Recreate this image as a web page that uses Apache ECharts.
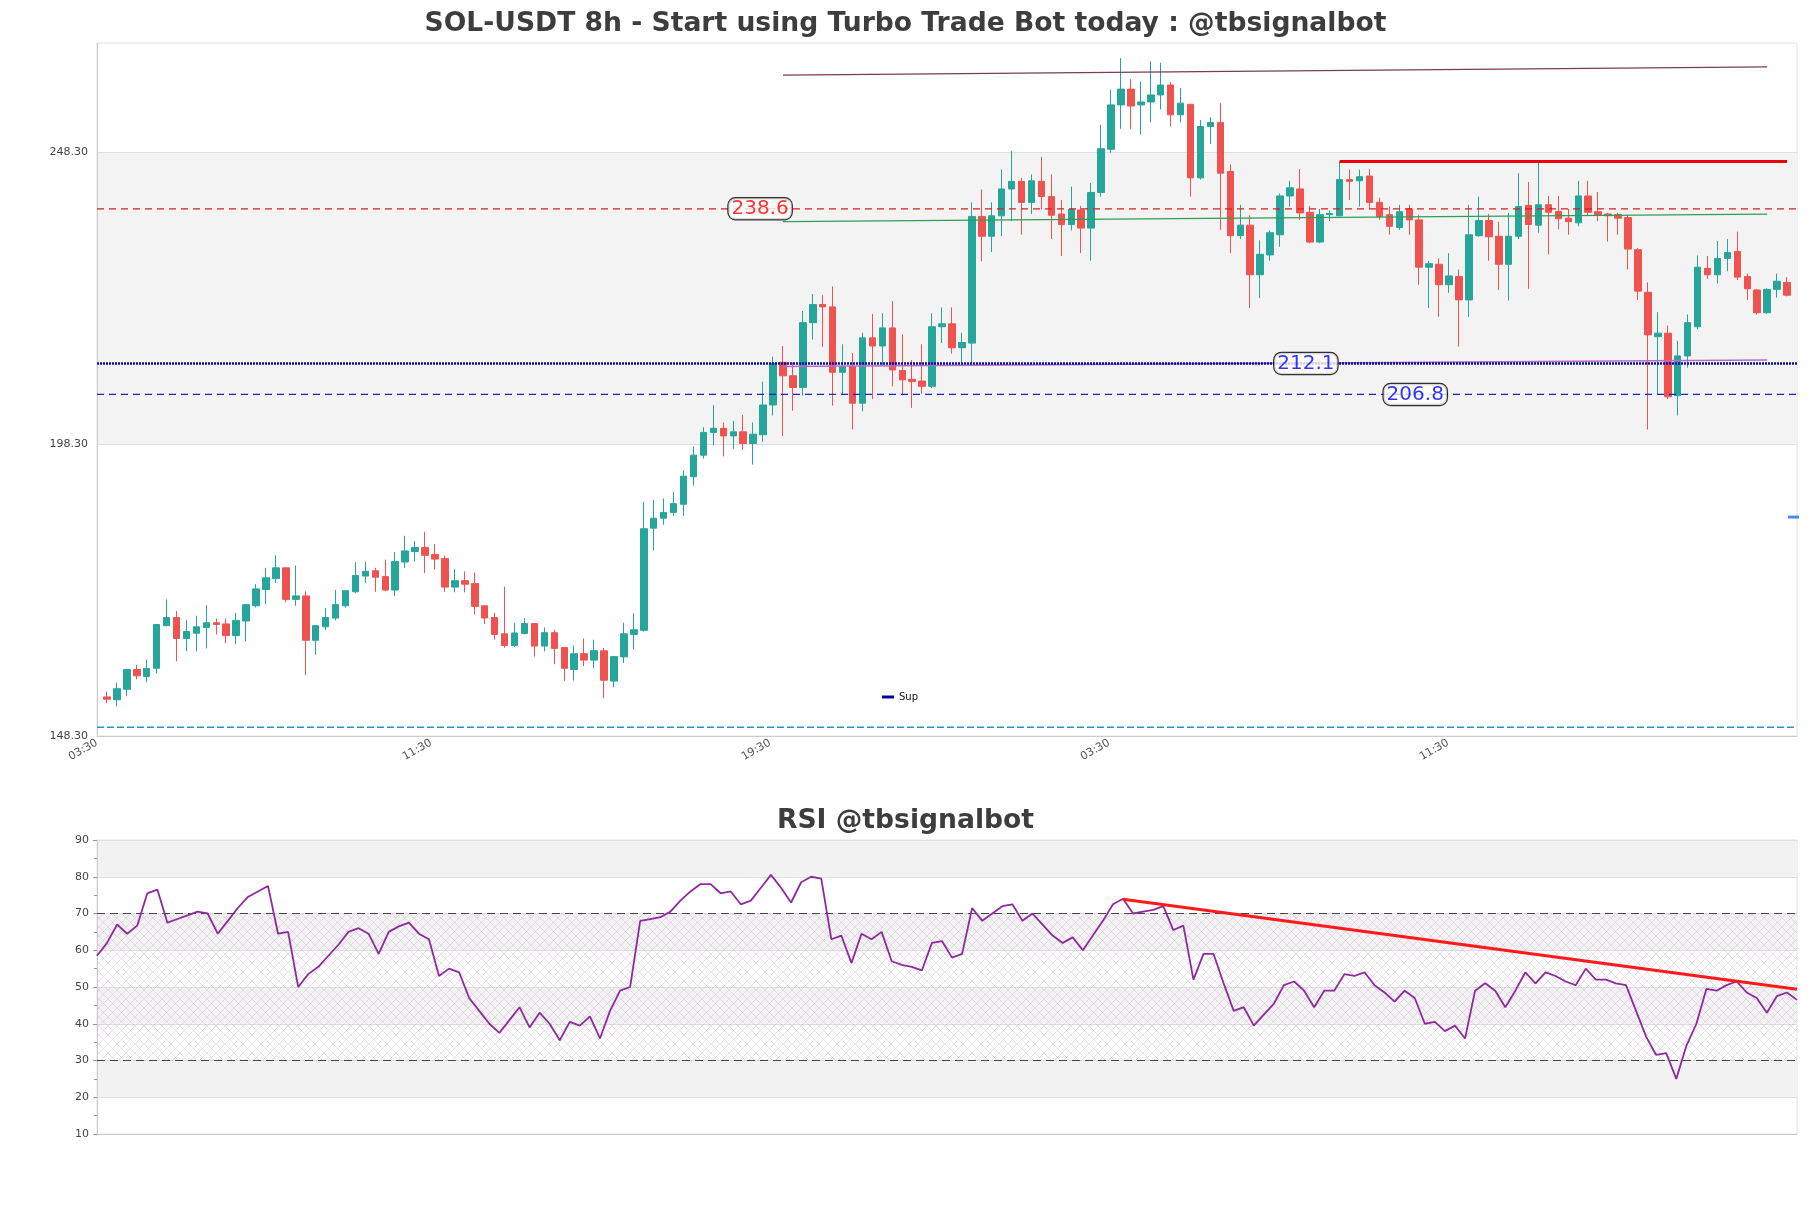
<!DOCTYPE html>
<html>
<head>
<meta charset="utf-8">
<script src="https://cdn.jsdelivr.net/npm/echarts@6/dist/echarts.min.js"></script>
<style>
html,body{margin:0;padding:0;background:#ffffff;}
#chart{width:1811px;height:1208px;}
</style>
</head>
<body>
<div id="chart"></div>
<script>
// ---------------- DATA ----------------
const opens = [155.0,154.5,156.3,159.7,158.5,159.9,167.2,168.6,165.0,165.9,166.9,167.7,167.5,165.5,168.0,170.6,173.4,175.25,177.1,171.7,
172.3,164.7,167.0,168.5,170.6,173.0,175.7,176.6,175.6,173.3,178.1,179.9,180.6,179.4,178.7,173.8,174.9,174.4,170.6,168.6,
165.8,163.8,165.85,167.55,163.7,166.0,163.45,159.7,162.4,161.3,162.9,157.7,161.85,165.7,166.4,183.9,185.6,186.6,188.0,192.7,
196.4,200.3,201.0,199.7,200.4,198.4,199.9,205.0,212.3,210.0,208.0,219.1,222.2,221.8,210.6,211.6,205.3,216.5,215.1,218.2,
210.9,209.4,209.1,208.2,218.4,218.9,214.8,215.6,237.3,233.9,237.4,242.0,243.3,239.7,243.3,240.7,237.7,235.9,238.4,235.3,
241.4,248.8,256.4,259.1,256.4,256.9,258.1,259.8,254.7,256.5,243.9,252.7,253.4,245.0,234.0,235.8,227.3,230.7,234.15,240.8,
242.0,238.0,232.9,237.6,237.4,243.6,243.4,244.2,239.7,237.6,235.4,238.6,236.7,228.6,229.1,225.6,227.0,223.0,234.0,236.6,
233.9,229.1,233.9,239.2,235.8,239.3,238.15,237.0,236.2,240.8,238.1,237.7,237.6,237.1,231.6,224.3,216.7,217.3,206.6,213.4,
218.4,228.4,227.3,230.1,231.3,227.0,224.7,220.8,224.8,226.0];
const closes = [154.6,156.4,159.7,158.6,159.85,167.4,168.6,165.0,166.2,167.0,167.7,167.4,165.5,168.1,170.8,173.5,175.4,177.1,171.7,172.3,
164.7,167.2,168.6,170.8,173.2,175.8,176.5,175.5,173.3,178.2,180.0,180.6,179.25,178.6,173.8,174.9,174.3,170.5,168.5,165.7,
163.8,165.95,167.55,163.7,166.0,163.3,159.9,162.4,161.3,162.9,157.85,161.9,165.8,166.5,183.8,185.6,186.6,188.1,192.8,196.4,
200.3,201.0,199.7,200.4,198.4,200.0,205.0,212.1,210.0,208.0,219.1,222.2,221.8,210.6,211.6,205.3,216.5,215.1,218.2,211.0,
209.3,209.0,208.2,218.4,218.9,214.8,215.7,237.3,233.9,237.4,242.0,243.3,239.7,243.4,240.7,237.5,235.9,238.5,235.3,241.4,
248.9,256.4,259.1,256.2,256.9,258.1,259.8,254.7,256.7,243.9,252.7,253.4,244.7,234.0,235.8,227.3,230.8,234.5,240.8,242.2,
237.9,232.9,237.6,237.8,243.6,243.3,244.1,239.7,237.3,235.6,238.1,236.7,228.6,229.2,225.6,227.1,223.0,234.15,236.6,233.8,
229.1,233.9,239.0,235.9,239.3,238.0,236.9,236.4,240.8,238.0,237.6,237.4,237.0,231.7,224.5,217.0,217.3,206.4,213.4,219.1,
228.6,227.3,230.1,231.1,226.9,224.9,220.8,224.8,226.2,223.8];
const lows = [153.9,153.4,155.1,158.0,157.5,159.0,167.1,161.1,162.8,162.8,163.3,165.7,164.2,164.0,164.5,170.3,170.9,174.5,171.2,170.6,
158.7,162.2,166.5,168.1,170.3,172.8,174.5,173.0,173.1,172.3,177.1,178.2,176.2,176.8,173.0,172.9,172.9,169.1,167.5,164.8,
163.4,163.5,165.7,161.9,162.8,160.6,157.7,157.8,160.25,159.9,154.8,156.65,160.8,163.1,166.2,180.1,184.5,186.0,186.0,191.2,
195.8,198.1,196.2,197.5,197.3,194.8,198.7,203.2,199.7,204.0,206.6,216.2,214.9,204.9,206.7,200.8,203.9,206.0,211.9,208.2,
206.6,204.5,206.9,207.9,215.6,213.8,212.1,212.1,229.6,231.2,233.9,236.5,234.15,237.7,238.5,233.4,230.5,234.9,231.0,229.7,
240.7,248.2,252.3,252.3,251.3,253.4,255.6,252.7,253.4,240.7,243.6,249.7,235.0,231.0,233.4,221.6,223.3,229.7,232.1,239.0,
236.7,232.7,232.7,236.5,237.4,240.1,239.0,238.6,236.7,234.15,235.0,234.15,225.6,221.6,220.1,224.2,215.0,220.1,233.8,229.7,
224.7,222.9,233.4,224.9,234.5,230.8,235.1,234.15,235.6,237.5,236.5,233.0,234.15,228.2,223.0,200.8,206.9,206.0,203.2,211.4,
218.0,226.6,225.8,227.9,226.4,223.0,220.5,220.6,223.4,223.6];
const highs = [155.9,157.45,159.7,160.5,161.4,167.4,171.7,169.7,168.1,168.9,170.7,168.4,168.4,169.4,170.8,174.3,177.1,179.25,177.1,177.5,
173.1,167.2,170.2,173.3,173.2,178.1,178.1,177.1,178.5,179.8,182.6,181.7,183.3,181.2,179.2,176.9,176.5,176.3,170.6,169.4,
173.9,167.7,168.5,167.55,166.9,166.5,163.45,163.8,165.0,164.8,163.4,161.9,167.7,169.3,188.4,188.7,189.0,190.1,193.8,197.9,
201.2,205.0,202.0,202.3,203.3,202.0,209.0,213.3,215.1,212.3,221.1,224.0,223.8,225.3,215.4,213.9,217.4,220.6,220.7,222.8,
217.1,212.7,215.4,220.7,221.7,221.7,217.4,239.7,241.9,239.7,245.3,248.5,243.9,244.5,247.5,244.5,240.1,242.4,239.1,243.0,
253.0,259.0,264.4,260.8,260.4,263.9,263.6,260.3,259.3,256.5,253.8,254.3,256.7,246.2,239.3,237.5,233.2,234.9,241.2,243.4,
245.4,239.1,238.6,238.3,246.7,245.3,245.3,245.4,240.5,239.0,239.3,239.3,237.6,229.7,230.1,231.0,228.2,239.3,240.7,237.7,
236.4,237.9,244.7,243.2,246.7,240.8,240.8,238.6,243.4,243.4,241.5,237.9,237.9,237.5,231.9,226.0,220.9,218.6,216.0,220.5,
230.6,230.5,233.1,233.4,234.7,227.5,224.9,225.0,227.5,226.9];

const rsiValues = [58.5,62,67,64.5,66.7,75.5,76.5,67.5,68.5,69.5,
70.5,70,64.5,68,71.5,74.5,76,77.5,64.5,65,
50,53.5,55.5,58.5,61.5,65,66,64.5,59,65,
66.5,67.5,64.5,63,53,55,54,47,43.5,40,
37.5,41,44.5,39,43,40,35.5,40.5,39.5,42,
36,43.5,49,50,68,68.5,69,70.5,73.5,76,
78,78,75.5,76,72.5,73.5,77,80.5,77,73,
78.5,80,79.5,63,64,56.5,64.5,63,65,57,
56,55.5,54.5,62,62.5,58,59,71.5,68,70,
72,72.5,68,70,67,64,62,63.5,60,64,
68,72.5,74,70,70.5,71,72,65.5,66.7,52,
59,59,51,43.5,44.5,39.5,42.5,45.5,50.5,51.5,
49,44.5,49,49,53.5,53,54,50.5,48.5,46,
49,47,40,40.5,38,39.5,36,49,51,49,
44.5,49,54,51,54,53,51.5,50.5,55,52,
52,51,50.5,43.5,36.5,31.5,32,25,34,40,
49.5,49,50.5,51.5,48.5,47,43,47.5,48.5,46.5];

const xTickPos = [-1, 32.6, 66.7, 100.8, 134.9];
const xTickLabels = ['03:30', '11:30', '19:30', '03:30', '11:30'];
const priceTicks = [148.3, 198.3, 248.3];
const priceRange = [148.3, 267.0];
const rsiRange = [10, 90];
const rsiBands = [30, 70];

const resistanceLevel = 238.6;
const supportLevel = 212.1;
const support2Level = 206.8;
const floorLevel = 149.8;
const trendUpper = [[68, 261.5], [167, 262.9]];
const trendMiddle = [[68, 236.4], [167, 237.7]];
const trendLower = [[68, 211.6], [167, 212.7]];
const topLevelLine = [[124, 246.7], [169, 246.7]];
const lastPriceMark = [[169.1, 185.8], [171.1, 185.8]];
const rsiTrend = [[102, 73.9], [169, 49.4]];
const levelLabels = [[65.7, 238.6, '#ff0000'], [120.6, 212.1, '#0000ff'], [131.6, 206.8, '#0000ff']];

// ---------------- CHART ----------------
const chart = echarts.init(document.getElementById('chart'), null, {renderer: 'canvas'});
const N = opens.length;
const candleData = opens.map((o, i) => [i, o, closes[i], lows[i], highs[i]]);
const xMin = -1, xMax = N;
const span = (v) => [[xMin, v], [xMax, v]];

// hatch pattern for RSI 30-70 zone
const pat = document.createElement('canvas');
pat.width = 9; pat.height = 9;
const pg = pat.getContext('2d');
pg.strokeStyle = 'rgba(205,170,210,0.38)';
pg.lineWidth = 1;
pg.beginPath();
pg.moveTo(0, 0); pg.lineTo(9, 9);
pg.moveTo(9, 0); pg.lineTo(0, 9);
pg.stroke();

const font = 'DejaVu Sans';
const lineSeries = (name, data, style, z) => ({
  name: name, type: 'line', xAxisIndex: 0, yAxisIndex: 0, data: data,
  symbol: 'none', silent: true, z: z || 5, lineStyle: style, itemStyle: {color: style.color},
  animation: false
});

const option = {
  backgroundColor: '#ffffff',
  animation: false,
  textStyle: {fontFamily: font},
  title: [
    {text: 'SOL-USDT 8h - Start using Turbo Trade Bot today : @tbsignalbot', left: 'center', top: 11, padding: 0,
     textStyle: {fontSize: 26.6, fontWeight: 'bold', color: '#3d3d3d', fontFamily: font}},
    {text: 'RSI @tbsignalbot', left: 'center', top: 808, padding: 0,
     textStyle: {fontSize: 26.6, fontWeight: 'bold', color: '#3d3d3d', fontFamily: font}}
  ],
  legend: {
    data: [{name: 'Sup', icon: 'rect', itemStyle: {color: '#0000aa'}}],
    left: 882, top: 692, itemWidth: 12, itemHeight: 3, padding: 0,
    textStyle: {fontSize: 10, color: '#111', fontFamily: font}
  },
  grid: [
    {left: 97, top: 43, width: 1700, height: 693, show: true, borderColor: '#e2e2e2', borderWidth: 1, backgroundColor: 'transparent'},
    {left: 97, top: 840, width: 1700, height: 294, show: true, borderColor: '#e2e2e2', borderWidth: 1, backgroundColor: 'transparent'}
  ],
  xAxis: [
    {type: 'value', gridIndex: 0, min: xMin, max: xMax,
     axisLine: {show: true, onZero: false, lineStyle: {color: '#cccccc'}},
     axisTick: {show: false, customValues: xTickPos},
     splitLine: {show: false},
     axisLabel: {customValues: xTickPos, rotate: 30, fontSize: 11, color: '#555', margin: 6, showMinLabel: true,
       formatter: (v) => { const k = xTickPos.findIndex(p => Math.abs(p - v) < 1e-6); return k >= 0 ? xTickLabels[k] : ''; }}},
    {type: 'value', gridIndex: 1, min: 0, max: rsiValues.length - 1,
     axisLine: {show: true, onZero: false, lineStyle: {color: '#cccccc'}}, axisTick: {show: false}, axisLabel: {show: false}, splitLine: {show: false}}
  ],
  yAxis: [
    {type: 'value', gridIndex: 0, min: priceRange[0], max: priceRange[1],
     axisLine: {show: true, onZero: false, lineStyle: {color: '#cccccc'}},
     axisTick: {show: false, customValues: priceTicks},
     axisLabel: {customValues: priceTicks, fontSize: 11, color: '#444', margin: 9, formatter: (v) => v.toFixed(2)},
     splitLine: {show: true, lineStyle: {color: '#dedede', width: 1}},
     splitArea: {show: true, areaStyle: {color: ['rgba(255,255,255,0)', '#f3f3f3']}}},
    {type: 'value', gridIndex: 1, min: rsiRange[0], max: rsiRange[1], interval: 10,
     axisLine: {show: true, onZero: false, lineStyle: {color: '#cccccc'}},
     axisTick: {show: true, length: 4, lineStyle: {color: '#999'}},
     minorTick: {show: true, splitNumber: 2, length: 3, lineStyle: {color: '#999'}},
     axisLabel: {fontSize: 11, color: '#444', margin: 8},
     splitLine: {show: true, lineStyle: {color: '#dedede', width: 1}},
     splitArea: {show: true, areaStyle: {color: ['rgba(255,255,255,0)', '#f2f2f3']}}}
  ],
  series: [
    {type: 'candlestick', name: 'Price', xAxisIndex: 0, yAxisIndex: 0, data: candleData,
     encode: {x: 0, y: [1, 2, 3, 4]}, barWidth: 7, z: 3,
     itemStyle: {color: '#26a69a', color0: '#ef5350', borderColor: '#26a69a', borderColor0: '#ef5350', borderWidth: 1}},
    lineSeries('res', span(resistanceLevel), {color: '#dd1c1c', width: 1.2, type: [7, 5]}, 4),
    lineSeries('Sup', span(supportLevel), {color: '#0a0aa8', width: 2.6, type: [2, 1]}, 6),
    lineSeries('sup2', span(support2Level), {color: '#1f1fd8', width: 1.2, type: [7, 5]}, 4),
    lineSeries('floor', span(floorLevel), {color: '#2a8fd2', width: 1.5, type: [7, 3]}, 4),
    lineSeries('trendUpper', trendUpper, {color: '#7b3b55', width: 1.2}, 5),
    lineSeries('trendMiddle', trendMiddle, {color: '#2e9e55', width: 1.2}, 5),
    lineSeries('trendLower', trendLower, {color: '#b46cc8', width: 1.5}, 5),
    lineSeries('topLevel', topLevelLine, {color: '#ee0000', width: 3}, 6),
    Object.assign(lineSeries('lastPrice', lastPriceMark, {color: '#4a90e2', width: 3}, 6), {clip: false}),
    {type: 'scatter', name: 'labels', xAxisIndex: 0, yAxisIndex: 0, silent: true, z: 10,
     symbolSize: 1, itemStyle: {color: 'rgba(0,0,0,0)'},
     data: levelLabels.map(d => ({value: [d[0], d[1]], label: {color: d[2]}})),
     label: {show: true, position: 'inside', formatter: (p) => p.value[1].toFixed(1),
       fontSize: 20, fontFamily: font, backgroundColor: '#ffffff', borderColor: '#000', borderWidth: 1.2,
       borderRadius: 7, padding: [1, 3, 0, 3]}},
    {type: 'line', name: 'RSI', xAxisIndex: 1, yAxisIndex: 1, symbol: 'none', z: 5,
     data: rsiValues.map((v, i) => [i, v]),
     lineStyle: {color: '#8e2a9e', width: 1.8}, itemStyle: {color: '#8e2a9e'},
     markArea: {silent: true, z: 1, itemStyle: {color: {image: pat, repeat: 'repeat'}},
       data: [[{yAxis: rsiBands[0]}, {yAxis: rsiBands[1]}]]},
     markLine: {silent: true, symbol: 'none', label: {show: false},
       lineStyle: {color: '#444', width: 1.2, type: [8, 5]},
       data: rsiBands.map(v => ({yAxis: v}))}},
    {type: 'line', name: 'rsiTrend', xAxisIndex: 1, yAxisIndex: 1, symbol: 'none', z: 6,
     data: rsiTrend, lineStyle: {color: '#ff1a1a', width: 3}, itemStyle: {color: '#ff1a1a'}}
  ]
};
chart.setOption(option);
</script>
</body>
</html>
